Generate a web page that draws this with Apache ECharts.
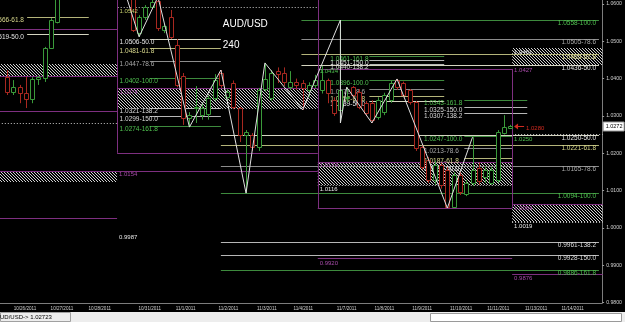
<!DOCTYPE html>
<html><head><meta charset="utf-8">
<script src="https://cdn.jsdelivr.net/npm/echarts@6/dist/echarts.min.js"></script>
<style>html,body{margin:0;padding:0;background:#000;overflow:hidden}#c{width:625px;height:322px}</style>
</head><body><div id="c"></div><script>
// ---------- DATA ----------
// 4H candles: [open, close, low, high], one per bar index
const ohlc = [
[1.0404,1.0364,1.0356,1.0423],[1.0364,1.0377,1.0356,1.0396],[1.0377,1.0361,1.0334,1.0383],
[1.0361,1.0345,1.0321,1.0404],[1.0345,1.0399,1.0334,1.0404],[1.0399,1.0404,1.0383,1.0407],
[1.0401,1.0482,1.0391,1.0485],[1.0482,1.0557,1.0480,1.0562],[1.0552,1.0625,1.0548,1.0640],
[1.0625,1.0668,1.0620,1.0675],[1.0668,1.0702,1.0655,1.0712],[1.0702,1.0745,1.0690,1.0758],
[1.0745,1.0731,1.0715,1.0766],[1.0731,1.0752,1.0720,1.0768],[1.0752,1.0721,1.0708,1.0760],
[1.0721,1.0735,1.0701,1.0748],[1.0735,1.0698,1.0690,1.0744],[1.0698,1.0712,1.0680,1.0725],
[1.0712,1.0668,1.0655,1.0718],[1.0668,1.0640,1.0625,1.0680],[1.0640,1.0530,1.0525,1.0652],
[1.0522,1.0565,1.0512,1.0570],[1.0565,1.0592,1.0557,1.0597],[1.0592,1.0605,1.0588,1.0615],
[1.0608,1.0536,1.0528,1.0619],[1.0530,1.0541,1.0522,1.0546],[1.0565,1.0512,1.0506,1.0584],
[1.0490,1.0383,1.0377,1.0506],[1.0407,1.0294,1.0276,1.0415],[1.0294,1.0302,1.0270,1.0310],
[1.0322,1.0324,1.0281,1.0380],[1.0302,1.0321,1.0290,1.0335],[1.0305,1.0348,1.0290,1.0355],
[1.0348,1.0396,1.0340,1.0412],[1.0415,1.0383,1.0375,1.0423],[1.0351,1.0364,1.0340,1.0372],
[1.0388,1.0324,1.0318,1.0395],[1.0321,1.0249,1.0230,1.0324],[1.0249,1.0257,1.0093,1.0262],
[1.0249,1.0217,1.0206,1.0254],[1.0217,1.0369,1.0206,1.0375],[1.0372,1.0399,1.0365,1.0442],
[1.0348,1.0415,1.0340,1.0423],[1.0420,1.0412,1.0388,1.0430],[1.0415,1.0391,1.0380,1.0430],
[1.0377,1.0391,1.0370,1.0420],[1.0391,1.0383,1.0370,1.0400],[1.0388,1.0375,1.0316,1.0396],
[1.0369,1.0383,1.0350,1.0390],[1.0383,1.0396,1.0375,1.0410],[1.0369,1.0396,1.0360,1.0434],
[1.0396,1.0361,1.0334,1.0400],[1.0343,1.0308,1.0300,1.0350],[1.0316,1.0369,1.0281,1.0557],
[1.0348,1.0351,1.0335,1.0377],[1.0377,1.0356,1.0348,1.0380],[1.0364,1.0324,1.0318,1.0372],
[1.0334,1.0308,1.0300,1.0340],[1.0334,1.0289,1.0281,1.0342],[1.0297,1.0343,1.0290,1.0350],
[1.0310,1.0356,1.0302,1.0362],[1.0343,1.0388,1.0335,1.0396],[1.0396,1.0377,1.0370,1.0399],
[1.0388,1.0356,1.0350,1.0392],[1.0369,1.0337,1.0330,1.0372],[1.0337,1.0214,1.0206,1.0340],
[1.0217,1.0163,1.0155,1.0222],[1.0182,1.0128,1.0120,1.0190],[1.0128,1.0168,1.0115,1.0180],
[1.0168,1.0115,1.0105,1.0174],[1.0155,1.0056,1.0053,1.0163],[1.0056,1.0142,1.0058,1.0150],
[1.0142,1.0096,1.0088,1.0150],[1.0091,1.0120,1.0085,1.0128],[1.0120,1.0155,1.0112,1.0243],
[1.0160,1.0125,1.0115,1.0175],[1.0136,1.0155,1.0120,1.0165],[1.0120,1.0155,1.0115,1.0163],
[1.0128,1.0257,1.0120,1.0262],[1.0254,1.0270,1.0250,1.0302],[1.0268,1.0272,1.0265,1.0276]
];
// ZigZag pivots: [bar index, price]
const zigzag = [[17,1.0725],[21,1.0512],[24,1.0619],[29,1.0270],[34,1.0423],[38,1.0093],[41,1.0442],
  [47,1.0316],[53,1.0557],[53,1.0281],[54,1.0377],[58,1.0281],[62,1.0399],[70,1.0053],[74,1.0243]];
const dateTickPos = [2.86,8.73,14.76,22.7,28.4,35.2,41.3,47.1,54.0,60.0,66.0,72.2,78.1,84.1,89.9];
const dateLabels = ['10/26/2011','10/27/2011','10/28/2011','10/31/2011','11/1/2011','11/2/2011','11/3/2011',
  '11/4/2011','11/7/2011','11/8/2011','11/9/2011','11/10/2011','11/11/2011','11/13/2011','11/14/2011'];
const priceTicks = [0.98,0.99,1.00,1.01,1.02,1.03,1.04,1.05,1.06];
const bidPrice = 1.02723;

// Fibonacci levels [price, ratio]
const fibTopLeft = [[1.0566,'61.8'],[1.0519,'50.0']];
const fibLeft = [[1.0506,'50.0'],[1.0481,'61.8'],[1.0447,'78.6'],[1.0402,'100.0'],[1.0321,'138.2'],[1.0299,'150.0'],[1.0274,'161.8']];
const fibUpperRight = [[1.0558,'100.0'],[1.0505,'78.6'],[1.0465,'61.8'],[1.0436,'50.0']];
const fibMidUpper = [[1.0461,'161.8'],[1.0451,'150.0'],[1.0440,'138.2']];
const fibMid = [[1.0396,'100.0'],[1.0372,'78.6'],[1.0352,'61.8'],[1.0339,'50.0']];
const fibRightUpper = [[1.0343,'161.8'],[1.0325,'150.0'],[1.0307,'138.2']];
const fibRightLower = [[1.0247,'100.0'],[1.0213,'78.6'],[1.0187,'61.8'],[1.0167,'50.0']];
const fibLower = [[1.0250,'50.0'],[1.0221,'61.8'],[1.0165,'78.6'],[1.0094,'100.0'],[0.9961,'138.2'],[0.9928,'150.0'],[0.9886,'161.8']];

// pivot boxes: horizontal purple [x1, x2, price], vertical purple [x, pLow, pHigh]
const purpleLines = [[-1.3,17.5,1.0533],[-1.3,17.5,1.0407],[-1.3,17.5,1.0313],[17.5,49.4,1.0201],[-1.3,49.4,1.0152],
  [-1.3,17.5,1.0026],[17.5,49.4,1.0375],[49.4,80.3,1.0426],[49.4,80.3,1.0176],[49.4,80.3,1.0053],
  [49.4,80.3,0.9919],[80.3,94.7,1.0064],[80.3,94.7,0.9876]];
const purpleVerticals = [[17.5,1.0201,1.0620],[49.4,1.0053,1.0620],[80.3,1.0053,1.0426]];
// hatched zones [x1, x2, pTop, pBottom]
const hatchZones = [[-1.3,17.5,1.0439,1.0407],[-1.3,17.5,1.0150,1.0123],[17.5,49.4,1.0375,1.0321],
  [49.4,80.3,1.0176,1.0115],[80.3,94.7,1.0064,1.0016],[80.3,94.7,1.0482,1.0436]];
const dottedLines = [[17.6,49.4,1.0592],[-1.3,17.5,1.0281],[17.5,49.4,1.0321],[49.4,80.3,1.0115],[80.3,94.7,1.0251],[80.3,94.7,1.0016]];
// labels [x, price, text]
const purpleTexts = [[17.9,1.0364,'1.0374'],[17.8,1.0142,'1.0154'],[80.6,1.0423,'1.0427'],[49.7,0.9906,'0.9920'],
  [80.6,1.0053,'1.0064'],[80.6,0.9865,'0.9876'],[80.6,1.0614,'1.0624'],[49.7,1.0168,'1.0174']];
const whiteTexts = [[49.7,1.0104,'1.0116'],[17.8,0.9975,'0.9987'],[80.6,1.0005,'1.0019'],[80.6,1.0471,'1.0461']];
const greenTexts = [[49.7,1.0420,'1.0434'],[80.6,1.0238,'1.0250']];
const yellowTexts = [[17.9,1.0581,'1.0542']];
const titleTexts = [[34.3,1.0546,'AUD/USD'],[34.3,1.0490,'240']];
const redArrow = [[80.6,82.2,1.0273]];
const redTexts = [[82.5,1.0267,'1.0280']];
const statusText = 'AUD/USD-> 1.02723';

// ---------- RENDER ----------
const X_MIN = -7/6.3, X_MAX = -7/6.3 + 603/6.3, Y_MIN = 0.97984, Y_MAX = 1.06107;
const GREEN='#3a9a3a', RED='#a82820', PURPLE='#7e2f80', PURPLE_T='#a64aa8';
const FONT='"Liberation Sans", Arial, sans-serif';

function hatchCanvas(){
  const c=document.createElement('canvas'); c.width=3; c.height=3;
  const g=c.getContext('2d'); g.fillStyle='#cfcfcf';
  for(let k=0;k<3;k++) g.fillRect(k,k,1,1);
  return c;
}
const HATCH={type:'pattern', image:hatchCanvas(), repeat:'repeat'};

function custom(data, renderItem, z, noClip){
  return {type:'custom', coordinateSystem:'cartesian2d', clip:!noClip, silent:true, animation:false,
    data:data, renderItem:renderItem, z:z||2};
}
function hSegs(arr, color, dash, z){
  return custom(arr, function(p, api){
    const a=api.coord([api.value(0), api.value(2)]), b=api.coord([api.value(1), api.value(2)]);
    const y=Math.round(a[1])+0.5;
    return {type:'line', shape:{x1:a[0],y1:y,x2:b[0],y2:y}, style:{stroke:color,lineWidth:1,lineDash:dash||null}};
  }, z);
}
function vSegs(arr, color, z){
  return custom(arr, function(p, api){
    const a=api.coord([api.value(0), api.value(1)]), b=api.coord([api.value(0), api.value(2)]);
    const x=Math.round(a[0])+0.5;
    return {type:'line', shape:{x1:x,y1:a[1],x2:x,y2:b[1]}, style:{stroke:color,lineWidth:1}};
  }, z);
}
function texts(arr, color, size, z){
  return custom(arr.map(t=>[t[0],t[1]]), function(p, api){
    const a=api.coord([api.value(0), api.value(1)]);
    return {type:'text', x:a[0], y:a[1], style:{text:arr[p.dataIndex][2], fill:color,
      font:size+'px '+FONT, align:'left', verticalAlign:'middle'}};
  }, z||6);
}
function fibColors(r){
  if(r==='100.0'||r==='161.8') return ['#3d8a3d','#4fc04f'];
  if(r==='61.8') return ['#b4b47a','#d8d88c'];
  if(r==='50.0') return ['#d4d4c0','#e6e6e6'];
  if(r==='78.6') return ['#8c8c8c','#a8a8a8'];
  return ['#b6b6b6','#dcdcdc'];
}
function fib(levels, x1, x2, labelX, align){
  return custom(levels.map(l=>[x1,x2,l[0]]), function(p, api){
    const lv=levels[p.dataIndex], cols=fibColors(lv[1]);
    const a=api.coord([x1, lv[0]]), b=api.coord([x2, lv[0]]), t=api.coord([labelX, lv[0]]);
    const y=Math.round(a[1])+0.5;
    return {type:'group', children:[
      {type:'line', shape:{x1:a[0],y1:y,x2:b[0],y2:y}, style:{stroke:cols[0],lineWidth:1}},
      {type:'text', x:t[0], y:y+3.2, z2:5, style:{text:lv[0].toFixed(4)+'-'+lv[1], fill:cols[1],
        font:'6.5px '+FONT, align:align, verticalAlign:'middle'}}
    ]};
  }, 3);
}

const series = [];
series.push(custom(hatchZones, function(p, api){
  const a=api.coord([api.value(0), api.value(2)]), b=api.coord([api.value(1), api.value(3)]);
  return {type:'rect', shape:{x:a[0], y:Math.round(a[1]), width:b[0]-a[0], height:Math.round(b[1])-Math.round(a[1])},
    style:{fill:HATCH}};
}, 1));
series.push(fib(fibTopLeft, 3.2, 13, 2.7, 'right'));
series.push(fib(fibLeft, 22.7, 34, 17.9, 'left'));
series.push(fib(fibUpperRight, 46.8, 94.1, 93.65, 'right'));
series.push(fib(fibMidUpper, 57.6, 69.5, 51.4, 'left'));
series.push(fib(fibMid, 57.6, 69.5, 51.4, 'left'));
series.push(fib(fibRightUpper, 72.7, 82.7, 66.3, 'left'));
series.push(fib(fibRightLower, 72.7, 80.3, 66.3, 'left'));
series.push(fib(fibLower, 34, 94.1, 93.65, 'right'));
series.push(hSegs(dottedLines, '#c8c8c8', [1,2], 3));
series.push(hSegs(purpleLines, PURPLE, null, 3));
series.push(vSegs(purpleVerticals, PURPLE, 3));
series.push(custom(ohlc.map((r,k)=>[k,r[0],r[1],r[2],r[3]]), function(p, api){
  const i=api.value(0), o=api.value(1), c=api.value(2), l=api.value(3), h=api.value(4);
  const pO=api.coord([i,o]), pC=api.coord([i,c]), pL=api.coord([i,l]), pH=api.coord([i,h]);
  const x=Math.round(pO[0]);
  const col=c>=o?GREEN:RED;
  let top=Math.round(Math.min(pO[1],pC[1])), bot=Math.round(Math.max(pO[1],pC[1]));
  if(bot-top<1) bot=top+1;
  return {type:'group', children:[
    {type:'line', shape:{x1:x+0.5,y1:pH[1],x2:x+0.5,y2:pL[1]}, style:{stroke:col,lineWidth:1}},
    {type:'rect', shape:{x:x-1.5,y:top+0.5,width:4,height:bot-top}, style:{fill:'#000',stroke:col,lineWidth:1}}
  ]};
}, 4));
series.push({type:'line', data:zigzag, showSymbol:false, symbol:'none', silent:true, animation:false, z:5, clip:true,
  lineStyle:{color:'#e0e0e0', width:1}});
series.push(texts(purpleTexts, PURPLE_T, 6));
series.push(texts(whiteTexts, '#e6e6e6', 6));
series.push(texts(greenTexts, '#4fc04f', 6));
series.push(texts(yellowTexts, '#c4cc6a', 6));
series.push(texts(titleTexts, '#ffffff', 10));
series.push(texts(redTexts, '#d22a20', 6));
series.push(custom(redArrow, function(p, api){
  const a=api.coord([api.value(0), api.value(2)]), b=api.coord([api.value(1), api.value(2)]);
  const y=Math.round(a[1])+0.5;
  return {type:'group', children:[
    {type:'line', shape:{x1:a[0]+3,y1:y,x2:b[0],y2:y}, style:{stroke:'#d22a20',lineWidth:1}},
    {type:'polygon', shape:{points:[[a[0],y],[a[0]+4,y-3],[a[0]+4,y+3]]}, style:{fill:'#d22a20'}}
  ]};
}, 6));
// current bid tag on the price axis
series.push(custom([[X_MAX, bidPrice]], function(p, api){
  const a=api.coord([api.value(0), api.value(1)]);
  const y=Math.round(a[1]);
  return {type:'group', children:[
    {type:'rect', shape:{x:a[0]+1, y:y-4, width:21, height:9}, style:{fill:'#ffffff', stroke:'#9a9a9a', lineWidth:1}},
    {type:'text', x:a[0]+3.5, y:y+0.5, style:{text:bidPrice.toFixed(4), fill:'#000', font:'5.5px '+FONT, align:'left', verticalAlign:'middle'}}
  ]};
}, 8, true));

const chart = echarts.init(document.getElementById('c'), null, {renderer:'canvas'});
chart.setOption({
  backgroundColor:'#000',
  animation:false,
  grid:{left:0, right:22, top:0, bottom:19},
  xAxis:{type:'value', min:X_MIN, max:X_MAX, splitLine:{show:false},
    axisLine:{onZero:false, lineStyle:{color:'#7c7c7c'}}, axisTick:{show:false},
    axisLabel:{customValues:dateTickPos, color:'#cfcfcf', fontSize:4.6, fontFamily:FONT, margin:3,
      formatter:function(v){ const k=dateTickPos.findIndex(d=>Math.abs(d-v)<1e-6); return k>=0?dateLabels[k]:''; }}},
  yAxis:{type:'value', position:'right', min:Y_MIN, max:Y_MAX, splitLine:{show:false},
    axisLine:{show:true, onZero:false, lineStyle:{color:'#7c7c7c'}},
    axisTick:{show:true, customValues:priceTicks, length:2, lineStyle:{color:'#9a9a9a'}},
    axisLabel:{customValues:priceTicks, color:'#cfcfcf', fontSize:5.2, fontFamily:FONT, margin:4,
      formatter:function(v){ return v.toFixed(4); }}},
  graphic:[
    {type:'rect', shape:{x:0,y:312,width:625,height:10}, style:{fill:'#ededed'}, silent:true},
    {type:'rect', shape:{x:0.5,y:312.5,width:70,height:9}, style:{fill:'none', stroke:'#a0a0a0'}, silent:true},
    {type:'rect', shape:{x:430.5,y:313.5,width:191,height:8}, style:{fill:'#ffffff', stroke:'#9a9a9a'}, silent:true},
    {type:'text', x:-4, y:317, style:{text:statusText, fill:'#000', font:'6px '+FONT, verticalAlign:'middle'}, silent:true}
  ],
  series:series
});
</script></body></html>
